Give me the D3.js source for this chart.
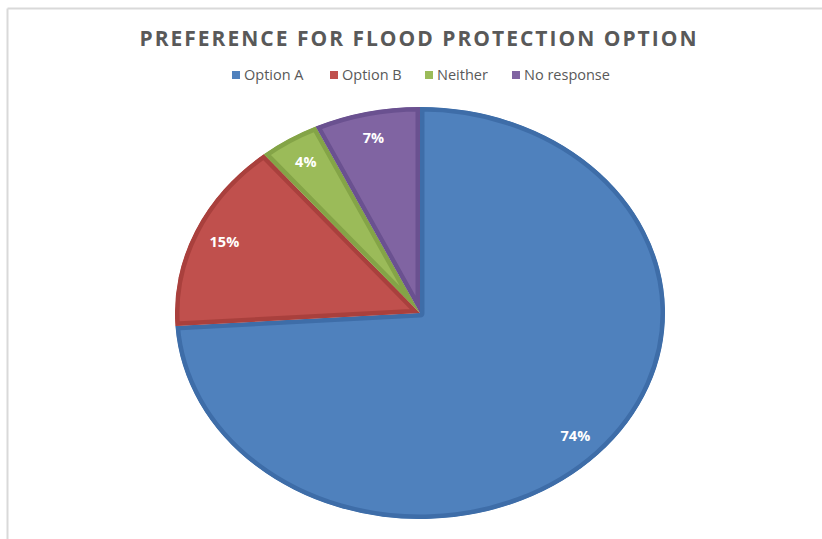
<!DOCTYPE html>
<html><head><meta charset="utf-8">
<script src="https://cdn.jsdelivr.net/npm/d3@7/dist/d3.min.js"></script>
<style>body{margin:0;background:#fff}svg{display:block}</style>
</head><body><svg id="c" width="822" height="539"></svg>
<script>
const categories = ["Option A", "Option B", "Neither", "No response"];
const values = [74, 15, 4, 7];
const labels = ["74%", "15%", "4%", "7%"];
const colors = ["#4F81BD", "#C0504D", "#9BBB59", "#8064A2"];
const edgeColors = ["#3E6DA8", "#A9403D", "#84A447", "#6A5190"];

const svg = d3.select("#c");
const W = 822, H = 539;

// frame (top & left visible)
svg.append("line").attr("x1", 7.5).attr("x2", W).attr("y1", 8.5).attr("y2", 8.5).attr("stroke", "#d9d9d9").attr("stroke-width", 2);
svg.append("line").attr("x1", 7.5).attr("x2", 7.5).attr("y1", 8.5).attr("y2", H).attr("stroke", "#d9d9d9").attr("stroke-width", 2);

svg.append("text").attr("x", 419).attr("y", 46).attr("text-anchor", "middle")
  .attr("font-family", "Open Sans, sans-serif").attr("font-weight", "bold").attr("font-size", 21)
  .attr("letter-spacing", 2).attr("fill", "#595959")
  .text("PREFERENCE FOR FLOOD PROTECTION OPTION");

// legend
const legendX = [232, 330, 425, 512];
const lg = svg.append("g");
categories.forEach((c, i) => {
  lg.append("rect").attr("x", legendX[i]).attr("y", 71).attr("width", 8).attr("height", 8).attr("fill", colors[i]);
  lg.append("text").attr("x", legendX[i] + 12).attr("y", 80)
    .attr("font-family", "Open Sans, sans-serif").attr("font-size", 14.5).attr("fill", "#595959").text(c);
});

// pie (elliptical)
const cx = 420, cy = 313, ry = 206, rx = 245;
const pie = d3.pie().sort(null).value(d => d)(values);
const arc = d3.arc().innerRadius(0).outerRadius(ry);
const labelArc = d3.arc().innerRadius(ry * 0.87).outerRadius(ry * 0.87);
const g = svg.append("g").attr("transform", `translate(${cx},${cy}) scale(${rx / ry},1)`);
const defs = svg.append("defs");
pie.forEach((p, i) => {
  defs.append("clipPath").attr("id", "clip" + i).append("path").attr("d", arc(p));
  g.append("path").attr("d", arc(p)).attr("fill", colors[i])
    .attr("clip-path", `url(#clip${i})`)
    .attr("stroke", edgeColors[i]).attr("stroke-width", 9).attr("stroke-linejoin", "round")
    .attr("vector-effect", "non-scaling-stroke");
});
pie.forEach((p, i) => {
  const [lx, ly] = labelArc.centroid(p);
  svg.append("text").attr("x", cx + lx * rx / ry).attr("y", cy + ly).attr("dy", "0.35em")
    .attr("text-anchor", "middle").attr("font-family", "Open Sans, sans-serif")
    .attr("font-weight", "bold").attr("font-size", 14.5).attr("fill", "#fff").text(labels[i]);
});
</script></body></html>
